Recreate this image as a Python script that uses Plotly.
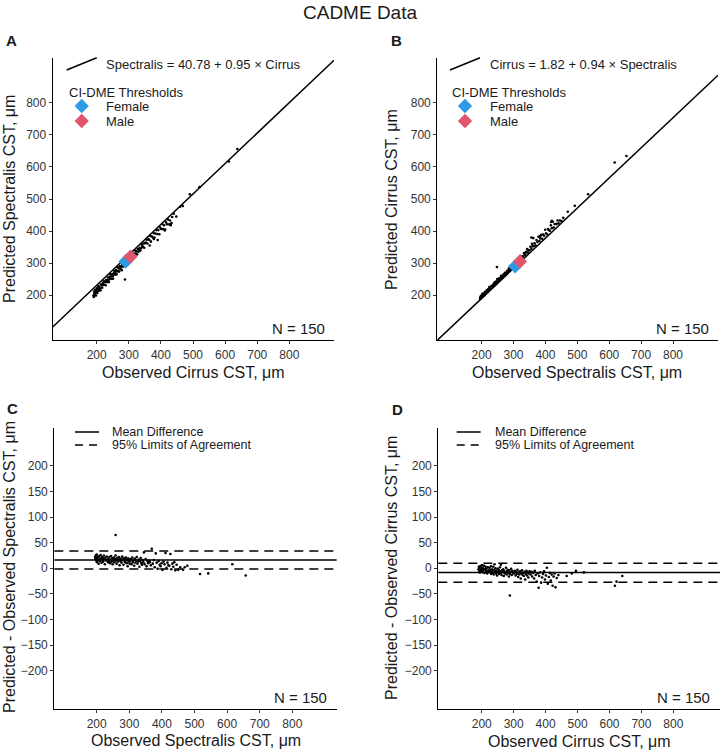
import plotly.graph_objects as go

# ---------------- DATA ----------------
# Panel A: observed Cirrus CST vs predicted Spectralis CST
a_obs_cirrus = [190,191,192,193,194,195,196,197,198,199,200,201,202,204,205,207,208,210,212,213,215,217,219,220,222,224,226,228,229,230,
                232,233,235,236,238,240,241,243,245,246,248,250,251,253,255,257,258,260,262,264,265,267,269,270,272,274,276,278,279,281,283,285,286,288,290,292,294,296,298,300,
                302,304,306,308,310,312,314,316,318,320,322,324,326,328,330,332,334,336,338,340,342,344,346,348,350,
                353,356,358,361,364,366,369,372,375,378,380,383,386,389,392,395,398,401,404,407,410,413,416,419,422,425,428,431,435,440,
                288,365,378,390,412,430,433,448,460,468,490,520,612,638]
a_pred_spectralis = [199,194,211,206,200,217,207,214,199,214,210,221,207,218,228,214,225,221,215,233,230,223,237,232,243,233,242,231,247,243,
                     247,240,255,247,241,257,250,265,258,251,265,259,251,268,275,264,271,278,265,275,287,274,283,274,290,283,289,278,295,289,302,290,298,302,296,308,303,298,311,310,
                     319,312,319,308,328,317,324,330,321,339,330,337,327,344,335,342,348,339,346,359,353,350,361,348,362,
                     364,373,361,375,372,385,367,383,380,393,380,392,403,391,403,390,411,406,422,406,418,405,427,421,436,421,433,420,444,454,
                     249,355,375,372,402,418,425,445,476,478,515,537,617,656]

# Panel B: observed Spectralis CST vs predicted Cirrus CST
b_obs_spectralis = [195,196,197,198,199,200,201,202,203,204,205,206,208,209,210,212,213,215,216,218,219,220,222,224,225,227,229,231,233,235,
                    236,238,239,241,243,244,246,248,249,251,253,254,256,258,259,261,263,265,266,268,270,271,273,275,276,278,280,282,283,285,287,288,290,292,293,295,297,298,300,301,
                    303,305,307,309,311,313,315,317,319,321,323,325,327,329,331,333,335,337,339,341,343,345,347,350,353,356,358,360,
                    363,366,369,372,375,378,381,384,387,390,393,396,399,402,405,408,411,414,417,420,423,426,429,432,435,438,441,445,450,456,
                    248,356,383,362,418,420,470,492,534,617,654]
b_pred_cirrus = [189,194,189,198,194,197,194,204,199,195,204,200,205,200,210,206,209,207,215,213,210,218,215,225,218,223,220,229,227,230,
                 229,235,230,240,237,233,243,241,250,242,248,252,246,253,251,260,254,258,254,264,264,261,270,266,270,266,276,274,273,283,280,277,284,282,291,286,284,291,296,290,
                 295,293,302,298,309,305,301,311,309,322,310,320,317,321,317,331,326,325,335,333,344,333,340,340,351,345,360,353,
                 353,362,355,372,366,382,369,377,388,376,389,385,404,393,390,406,403,401,418,409,429,411,422,422,422,433,424,433,431,441,
                 288,380,384,378,428,432,460,479,515,614,634]

# Panel C: observed Spectralis CST vs (predicted - observed Spectralis)
c_obs_spectralis = [195,196,197,198,199,200,201,202,203,204,205,206,208,209,210,212,213,215,216,218,219,220,222,224,225,227,229,231,233,235,
                    236,238,239,241,243,244,246,248,249,251,253,254,256,258,259,261,263,265,266,268,270,271,273,275,276,278,280,282,283,285,287,288,290,292,293,295,297,298,300,301,
                    303,305,307,309,311,313,315,317,319,321,323,325,327,329,331,333,335,337,339,341,343,345,347,350,353,356,358,360,
                    363,366,369,372,375,378,381,384,387,390,393,396,399,402,405,408,411,414,417,420,423,426,429,432,435,438,441,445,450,456,
                    258,478,517,542,616,657,470,465]
c_diff = [22,18,25,15,20,27,12,19,23,16,21,9,24,17,14,26,19,11,22,16,20,13,25,18,8,21,15,23,17,12,
          19,14,22,10,17,24,13,20,8,16,21,12,18,25,15,9,20,17,13,22,6,18,14,19,11,23,16,7,20,15,12,18,21,10,16,4,19,13,17,9,
          14,18,8,21,12,16,5,19,11,15,22,9,13,17,3,14,20,10,7,16,12,31,8,18,4,13,10,15,
          12,6,38,9,16,2,29,11,-1,14,7,4,10,-3,13,8,30,1,11,6,5,28,-2,9,3,12,-4,7,-3,2,
          65,5,-11,-10,8,-14,2,-3]

# Panel D: observed Cirrus CST vs (predicted - observed Cirrus)
d_obs_cirrus = [190,191,192,193,194,195,196,197,198,199,200,201,202,204,205,207,208,210,212,213,215,217,219,220,222,224,226,228,229,230,
                232,233,235,236,238,240,241,243,245,246,248,250,251,253,255,257,258,260,262,264,265,267,269,270,272,274,276,278,279,281,283,285,286,288,290,292,294,296,298,300,
                302,304,306,308,310,312,314,316,318,320,322,324,326,328,330,332,334,336,338,340,342,344,346,348,350,
                353,356,358,361,364,366,369,372,375,378,380,383,386,389,392,395,398,401,404,407,410,413,416,419,422,425,428,431,435,440,
                288,466,482,495,520,617,622,640,240,260,200]
d_diff = [-2,3,-5,1,-8,4,-3,-6,2,-1,-4,6,-7,0,-3,5,-9,-2,3,-5,-1,-10,2,-6,-4,1,-8,-3,4,-11,
          -6,-2,-9,3,-12,-4,-7,0,-10,-5,-14,-1,-8,-3,-11,2,-6,-9,-13,-4,-7,-2,-15,-5,-10,-8,1,-12,-6,-3,-9,-16,-4,-11,-7,-1,-13,-5,-8,-10,
          -9,-5,-14,-7,-11,-3,-17,-8,-12,-6,-20,-10,-4,-13,-9,-15,-7,-22,-11,-5,-14,-8,-18,-10,-6,
          -12,-7,-16,-9,-20,-5,-13,-26,-10,-38,-15,-8,-28,-18,-11,-6,-22,-14,1,-30,-17,-9,-24,-12,-34,-16,-10,-37,-19,-13,
          -53,-15,-10,-5,-8,-34,-26,-15,8,7,6]

# Regression equations
a_intercept, a_slope = 40.78, 0.95
b_intercept, b_slope = 1.82, 0.94

# CI-DME thresholds (x = observed, y = predicted)
threshold_labels = ["Female", "Male"]
a_thr_x = [290, 305]
a_thr_y = [305, 320]
b_thr_x = [305, 320]
b_thr_y = [290, 305]
threshold_colors = ["#2E9AE6", "#E0566C"]

# Bland-Altman statistics
c_mean, c_loa = 16, [-1.5, 33.5]
d_mean, d_loa = -8, [-27, 10]

n_label = "N = 150"
scatter_ticks = [200, 300, 400, 500, 600, 700, 800]
diff_ticks = [-200, -150, -100, -50, 0, 50, 100, 150, 200]

# ---------------- LAYOUT HELPERS ----------------
W, H = 720, 751
FONT = "Liberation Sans, Arial, sans-serif"
TXT = "#1a1a1a"
TICK = "#333333"


def px(x):
    return x / W


def py(y):
    return 1 - y / H


def axis(dom, rng, ticks, anchor):
    return dict(domain=dom, range=rng, tickvals=ticks, ticks="outside", ticklen=3,
                tickwidth=1, tickcolor=TICK, showline=True, linecolor="black", linewidth=1.2,
                showgrid=False, zeroline=False, anchor=anchor, fixedrange=True,
                tickfont=dict(size=12, color=TICK, family=FONT))


fig = go.Figure()

# Panel geometry (pixels)
pA = dict(x=(52.7, 334), y=(58, 340), xr=[63, 939], yr=[60, 940])
pB = dict(x=(437.3, 718), y=(58, 340), xr=[61, 941], yr=[60, 940])
pC = dict(x=(54.3, 336.7), y=(428.3, 709.3), xr=[70, 936], yr=[-275, 273])
pD = dict(x=(438.3, 720), y=(428.3, 709.3), xr=[64, 946], yr=[-275, 273])

layout_axes = {}
for i, (p, ticks) in enumerate([(pA, scatter_ticks), (pB, scatter_ticks), (pC, diff_ticks), (pD, diff_ticks)], start=1):
    xs = "" if i == 1 else str(i)
    xdom = [px(p["x"][0]), px(p["x"][1])]
    ydom = [py(p["y"][1]), py(p["y"][0])]
    layout_axes["xaxis" + xs] = axis(xdom, p["xr"], scatter_ticks, "y" + xs)
    layout_axes["yaxis" + xs] = axis(ydom, p["yr"], ticks, "x" + xs)

dot = dict(color="black", size=2.6)

# Panel A
fig.add_trace(go.Scatter(x=[pA["xr"][0], pA["xr"][1]],
                         y=[a_intercept + a_slope * pA["xr"][0], a_intercept + a_slope * pA["xr"][1]],
                         mode="lines", line=dict(color="black", width=1.5), xaxis="x", yaxis="y"))
fig.add_trace(go.Scatter(x=a_obs_cirrus, y=a_pred_spectralis, mode="markers", marker=dot, xaxis="x", yaxis="y"))
fig.add_trace(go.Scatter(x=a_thr_x, y=a_thr_y, mode="markers",
                         marker=dict(symbol="diamond", size=11, color=threshold_colors), xaxis="x", yaxis="y"))

# Panel B
fig.add_trace(go.Scatter(x=[pB["xr"][0], pB["xr"][1]],
                         y=[b_intercept + b_slope * pB["xr"][0], b_intercept + b_slope * pB["xr"][1]],
                         mode="lines", line=dict(color="black", width=1.5), xaxis="x2", yaxis="y2"))
fig.add_trace(go.Scatter(x=b_obs_spectralis, y=b_pred_cirrus, mode="markers", marker=dot, xaxis="x2", yaxis="y2"))
fig.add_trace(go.Scatter(x=b_thr_x, y=b_thr_y, mode="markers",
                         marker=dict(symbol="diamond", size=11, color=threshold_colors), xaxis="x2", yaxis="y2"))

# Panels C, D
shapes = []
for ax_i, mean, loa in [(3, c_mean, c_loa), (4, d_mean, d_loa)]:
    shapes.append(dict(type="line", xref=f"x{ax_i} domain", yref=f"y{ax_i}", x0=0, x1=1, y0=mean, y1=mean,
                       line=dict(color="black", width=1.5)))
    for v in loa:
        shapes.append(dict(type="line", xref=f"x{ax_i} domain", yref=f"y{ax_i}", x0=0, x1=1, y0=v, y1=v,
                           line=dict(color="black", width=1.5, dash="9px,6px")))

fig.add_trace(go.Scatter(x=c_obs_spectralis, y=c_diff, mode="markers", marker=dot, xaxis="x3", yaxis="y3"))
fig.add_trace(go.Scatter(x=d_obs_cirrus, y=d_diff, mode="markers", marker=dot, xaxis="x4", yaxis="y4"))

annotations = []


def text(x, y, s, size=13, xanchor="left", angle=0, bold=False, color=TXT):
    annotations.append(dict(x=px(x), y=py(y), xref="paper", yref="paper", text=f"<b>{s}</b>" if bold else s,
                            showarrow=False, xanchor=xanchor, yanchor="middle", textangle=angle,
                            font=dict(size=size, color=color, family=FONT)))


# Title and panel letters
text(360, 13, "CADME Data", size=19, xanchor="center")
text(11, 40, "A", size=15, xanchor="center", bold=True)
text(396, 40, "B", size=15, xanchor="center", bold=True)
text(13, 408, "C", size=15, xanchor="center", bold=True)
text(397, 409, "D", size=15, xanchor="center", bold=True)

# Axis titles
text(193, 372, "Observed Cirrus CST, μm", size=16, xanchor="center")
text(577, 372, "Observed Spectralis CST, μm", size=16, xanchor="center")
text(196, 740, "Observed Spectralis CST, μm", size=16, xanchor="center")
text(579, 741, "Observed Cirrus CST, μm", size=16, xanchor="center")
text(10, 199, "Predicted Spectralis CST, μm", size=16, xanchor="center", angle=-90)
text(392, 199, "Predicted Cirrus CST, μm", size=16, xanchor="center", angle=-90)
text(9, 567, "Predicted - Observed Spectralis CST, μm", size=16, xanchor="center", angle=-90)
text(391, 568, "Predicted - Observed Cirrus CST, μm", size=16, xanchor="center", angle=-90)

# N labels
text(327, 328, n_label, size=15, xanchor="right")
text(711, 328, n_label, size=15, xanchor="right")
text(329, 697, n_label, size=15, xanchor="right")
text(712, 697, n_label, size=15, xanchor="right")

# Legends for A and B
for (lx0, tx, eq) in [(66.7, 104.3, f"Spectralis = {a_intercept} + {a_slope} × Cirrus"),
                      (450.0, 488.3, f"Cirrus = {b_intercept} + {b_slope} × Spectralis")]:
    shapes.append(dict(type="line", xref="paper", yref="paper", x0=px(lx0), x1=px(lx0 + 30),
                       y0=py(70), y1=py(57.7), line=dict(color="black", width=1.5)))
    text(tx, 64, eq, size=13)
    text(lx0, 92, "CI-DME Thresholds", size=13)
    text(tx, 106, threshold_labels[0], size=13)
    text(tx, 121, threshold_labels[1], size=13)
    fig.add_trace(go.Scatter(x=[px(lx0 + 15), px(lx0 + 15)], y=[py(106), py(121)], mode="markers",
                             marker=dict(symbol="diamond", size=11, color=threshold_colors),
                             xaxis="x5", yaxis="y5", cliponaxis=False))

# Legends for C and D
for (lx0, tx) in [(75, 110), (456.7, 493.3)]:
    shapes.append(dict(type="line", xref="paper", yref="paper", x0=px(lx0), x1=px(lx0 + 24),
                       y0=py(432), y1=py(432), line=dict(color="black", width=1.5)))
    shapes.append(dict(type="line", xref="paper", yref="paper", x0=px(lx0), x1=px(lx0 + 24),
                       y0=py(445), y1=py(445), line=dict(color="black", width=1.5, dash="8px,6px")))
    text(tx, 432, "Mean Difference", size=12.5)
    text(tx, 445, "95% Limits of Agreement", size=12.5)

# overlay axis for legend keys in paper coordinates
layout_axes["xaxis5"] = dict(domain=[0, 1], range=[0, 1], visible=False, anchor="y5", fixedrange=True)
layout_axes["yaxis5"] = dict(domain=[0, 1], range=[0, 1], visible=False, anchor="x5", fixedrange=True)

fig.update_layout(width=W, height=H, margin=dict(l=0, r=0, t=0, b=0),
                  paper_bgcolor="white", plot_bgcolor="rgba(0,0,0,0)", showlegend=False,
                  font=dict(family=FONT, color=TXT), shapes=shapes, annotations=annotations,
                  **layout_axes)

fig.write_html("out.html", config={"displayModeBar": False},
               post_script="document.body.style.margin='0';document.body.style.overflow='hidden';")
